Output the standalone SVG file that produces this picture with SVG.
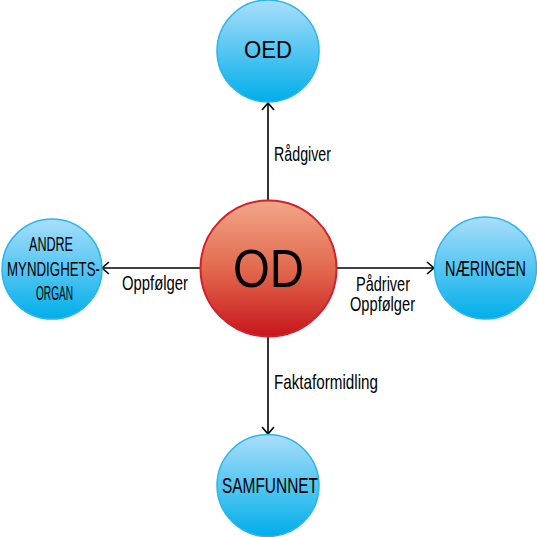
<svg xmlns="http://www.w3.org/2000/svg" width="537" height="537" viewBox="0 0 537 537">
<defs>
<linearGradient id="blue" x1="0" y1="0" x2="0" y2="1">
<stop offset="0" stop-color="#a9defa"/>
<stop offset="1" stop-color="#00aeea"/>
</linearGradient>
<linearGradient id="red" x1="0" y1="0" x2="0" y2="1">
<stop offset="0" stop-color="#f2a688"/>
<stop offset="0.5" stop-color="#e26a4e"/>
<stop offset="1" stop-color="#c7151c"/>
</linearGradient>
<marker id="arr" markerUnits="userSpaceOnUse" markerWidth="20" markerHeight="20" viewBox="-10 -10 20 20" refX="0" refY="0" orient="auto">
<path d="M-7,-6 L0,0 L-7,6" fill="none" stroke="#000" stroke-width="1.6"/>
</marker>
<style>
.b{fill:url(#blue);stroke:#29b6ea;stroke-width:1.5}
.r{fill:url(#red);stroke:#d4202a;stroke-width:2}
.t{font-family:"Liberation Sans",Arial,sans-serif;fill:#000}
.c{stroke:#000;stroke-width:1.6;fill:none;marker-end:url(#arr)}
</style>
</defs>
<g id="connectors">
<line class="c" x1="268" y1="200" x2="268" y2="103"/>
<line class="c" x1="268" y1="337" x2="268" y2="434"/>
<line class="c" x1="200" y1="268" x2="102" y2="268"/>
<line class="c" x1="337" y1="268" x2="434" y2="268"/>
<text class="t" x="274" y="161" font-size="21" textLength="57" lengthAdjust="spacingAndGlyphs">Rådgiver</text>
<text class="t" x="274" y="389" font-size="21" textLength="104" lengthAdjust="spacingAndGlyphs">Faktaformidling</text>
<text class="t" x="122" y="290" font-size="21" textLength="66" lengthAdjust="spacingAndGlyphs">Oppfølger</text>
<text class="t" x="356" y="291" font-size="21" textLength="54" lengthAdjust="spacingAndGlyphs">Pådriver</text>
<text class="t" x="350" y="311" font-size="21" textLength="65" lengthAdjust="spacingAndGlyphs">Oppfølger</text>
</g>
<g id="od">
<circle class="r" cx="268.5" cy="268.5" r="68"/>
<text class="t" x="233" y="287" font-size="54" textLength="71" lengthAdjust="spacingAndGlyphs">OD</text>
</g>
<g id="oed">
<circle class="b" cx="268" cy="51" r="51"/>
<text class="t" x="244" y="58" font-size="23" textLength="48" lengthAdjust="spacingAndGlyphs">OED</text>
</g>
<g id="andre">
<circle class="b" cx="52" cy="269" r="50"/>
<text class="t" x="29" y="251" font-size="20" textLength="44" lengthAdjust="spacingAndGlyphs">ANDRE</text>
<text class="t" x="7" y="276" font-size="20" textLength="93" lengthAdjust="spacingAndGlyphs">MYNDIGHETS-</text>
<text class="t" x="36" y="300" font-size="20" textLength="37" lengthAdjust="spacingAndGlyphs">ORGAN</text>
</g>
<g id="naeringen">
<circle class="b" cx="485.5" cy="268" r="51"/>
<text class="t" x="445" y="276" font-size="22" textLength="81" lengthAdjust="spacingAndGlyphs">NÆRINGEN</text>
</g>
<g id="samfunnet">
<circle class="b" cx="268" cy="485.5" r="51"/>
<text class="t" x="222" y="493" font-size="22" textLength="96" lengthAdjust="spacingAndGlyphs">SAMFUNNET</text>
</g>
</svg>
